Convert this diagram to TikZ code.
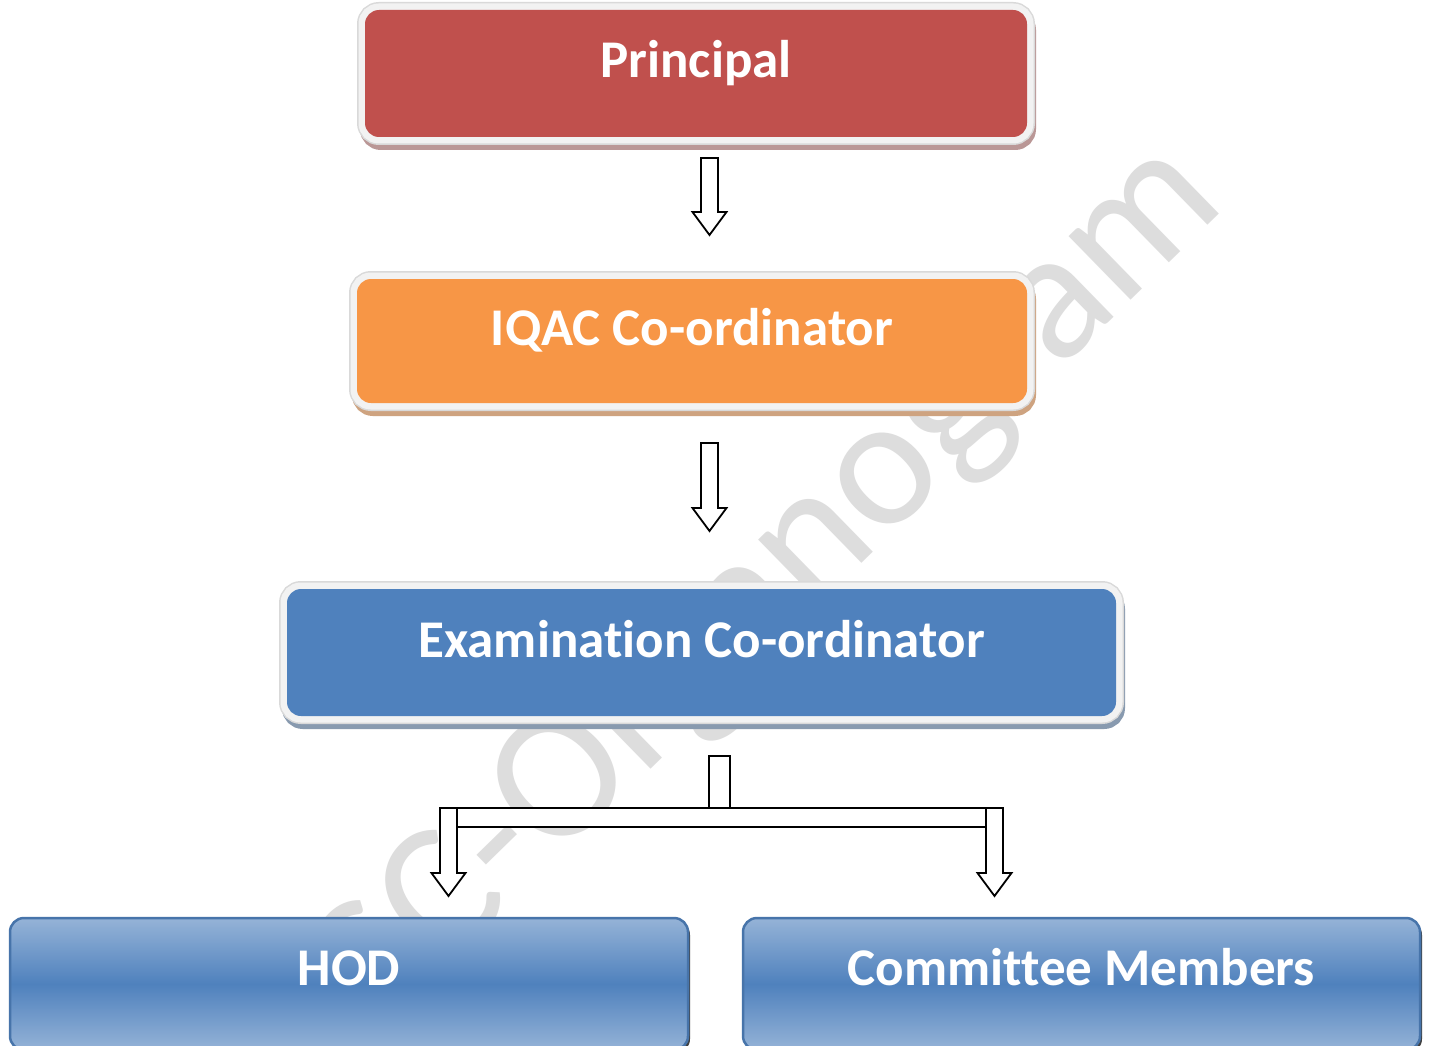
\documentclass[tikz,border=0pt]{standalone}
\usepackage{fontspec}
\setmainfont{Carlito}[Ligatures=NoCommon]
\usetikzlibrary{positioning,calc}

\definecolor{boxred}{HTML}{C0504D}
\definecolor{boxorange}{HTML}{F79646}
\definecolor{boxblue}{HTML}{4F81BD}
\definecolor{boxlight}{HTML}{95B3D7}
\definecolor{rimgray}{HTML}{F2F2F2}

\tikzset{
  title/.style={text=white, font=\fontsize{53}{60}\selectfont\bfseries,
    text height=36pt, text depth=27pt, inner sep=0pt, rounded corners=14pt},
  topbox/.style 2 args={title, fill=#1,
    preaction={draw=#2, fill=#2, line width=14pt, transform canvas={shift={(2pt,-6pt)}}},
    preaction={draw=gray!30, line width=16pt},
    preaction={draw=rimgray, line width=13pt}},
  lowbox/.style={title, draw=boxblue!90!black, line width=2.5pt, text depth=33pt,
    top color=boxlight, bottom color=boxlight, middle color=boxblue,
    preaction={fill=black!75, transform canvas={shift={(2pt,-3pt)}}}},
  blockarrow/.style={draw=black, fill=white, line width=1.8pt},
  watermark/.style={text=gray!27, inner sep=0pt, font=\fontsize{186}{186}\selectfont, rotate=44.3}
}

% block arrow pointing down, from a start coordinate to its tip
\newcommand{\blockdown}[2]{%
  \draw[blockarrow] let \p1=(#1), \p2=(#2) in
    (\x1-8.5pt,\y1) -- (\x1+8.5pt,\y1) -- (\x1+8.5pt,\y2+23pt) -- (\x1+17pt,\y2+23pt)
    -- (\x1,\y2) -- (\x1-17pt,\y2+23pt) -- (\x1-8.5pt,\y2+23pt) -- cycle;}

\begin{document}
\begin{tikzpicture}[x=1pt, y=-1pt]
  \clip (0,0) rectangle (1430,1046);
  \fill[white] (0,0) rectangle (1430,1046);

  \node[watermark] (wm) at (774,587) {SC-Organogram};

  \node[topbox={boxred}{boxred!45!gray!70}, minimum width=662pt, minimum height=127pt] (principal) at (696,73.5) {Principal};
  \node[topbox={boxorange}{boxorange!55!gray!80}, minimum width=670pt, minimum height=124pt] (iqac) at (692,341) {IQAC Co-ordinator};
  \node[topbox={boxblue}{boxblue!45!gray!80}, minimum width=829pt, minimum height=127pt] (exam) at (701.5,652.5) {Examination Co-ordinator};

  \node[lowbox, minimum width=678pt, minimum height=132pt] (hod) at (349,984) {HOD};
  \node[lowbox, minimum width=677pt, minimum height=132pt] (members) at (1081.5,984) {Committee Members};

  \coordinate (p-out) at (709.5,158);
  \coordinate (i-in) at (709.5,235);
  \coordinate (i-out) at (709.5,443);
  \coordinate (e-in) at (709.5,531);
  \coordinate (h-top) at (448.5,808);
  \coordinate (h-in) at (448.5,896);
  \coordinate (m-top) at (994.5,808);
  \coordinate (m-in) at (994.5,896);

  \blockdown{p-out}{i-in}
  \blockdown{i-out}{e-in}

  \draw[blockarrow] (709,756) rectangle (730,808);
  \draw[blockarrow] (440,808) rectangle (1003,827);
  \blockdown{h-top}{h-in}
  \blockdown{m-top}{m-in}
\end{tikzpicture}
\end{document}
